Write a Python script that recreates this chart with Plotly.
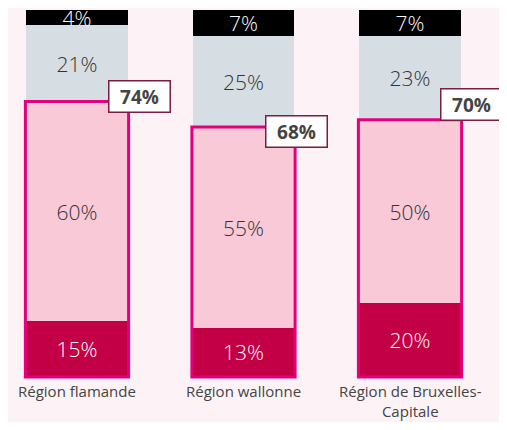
import plotly.graph_objects as go

regions = ["Région flamande", "Région wallonne", "Région de Bruxelles-<br>Capitale"]
very = [15, 13, 20]
rather = [60, 55, 50]
rather_not = [21, 25, 23]
not_at_all = [4, 7, 7]
totals = ["74%", "68%", "70%"]

x = list(range(len(regions)))
bar_w = 0.607
half_outline = 0.31

FONT = "Open Sans"

def seg(vals, color, txtcolor):
    return go.Bar(
        x=x, y=vals, width=bar_w, marker=dict(color=color, line=dict(width=0)),
        text=[f"{v}%" for v in vals], textposition="inside", insidetextanchor="middle",
        constraintext="none",
        textfont=dict(family=FONT, size=21, color=txtcolor, weight=300),
        hoverinfo="skip", showlegend=False, cliponaxis=False,
    )

fig = go.Figure()
fig.add_trace(seg(very, "#c30045", "#ffffff"))
fig.add_trace(seg(rather, "#fac9d7", "#333333"))
fig.add_trace(seg(rather_not, "#d6dee4", "#333333"))
fig.add_trace(seg(not_at_all, "#000000", "#ffffff"))

shifts = [(11, 5), (1, -4), (10, 15)]
for i in x:
    top = very[i] + rather[i]
    fig.add_shape(type="rect", xref="x", yref="y",
                  x0=i - half_outline, x1=i + half_outline, y0=-0.3, y1=top,
                  line=dict(color="#e3007d", width=3), fillcolor="rgba(0,0,0,0)", layer="above")
    fig.add_annotation(x=i + half_outline, y=top, xref="x", yref="y", text=f"<b>{totals[i]}</b>",
                       showarrow=False, xshift=shifts[i][0], yshift=shifts[i][1],
                       font=dict(family=FONT, size=19, color="#444444"),
                       bgcolor="#ffffff", bordercolor="#7a1d45", borderwidth=1.5,
                       borderpad=4, width=52, height=22)

# category labels
for i, lab in zip(x, regions):
    fig.add_annotation(x=i, y=0, xref="x", yref="paper", text=lab, showarrow=False,
                       xanchor="center", yanchor="top", yshift=0, align="center",
                       font=dict(family=FONT, size=15, color="#444444"))

fig.update_layout(
    width=491, height=414, barmode="stack", bargap=0,
    margin=dict(l=0, r=0, t=0, b=43),
    paper_bgcolor="#fdf3f6", plot_bgcolor="rgba(0,0,0,0)",
    xaxis=dict(range=[-0.4144, 2.5345], tickvals=x, showticklabels=False, showgrid=False,
               zeroline=False, showline=False, ticks="", automargin=False),
    yaxis=dict(range=[-0.82, 100.546], visible=False, automargin=False),
)

fig.write_html("out.html")
